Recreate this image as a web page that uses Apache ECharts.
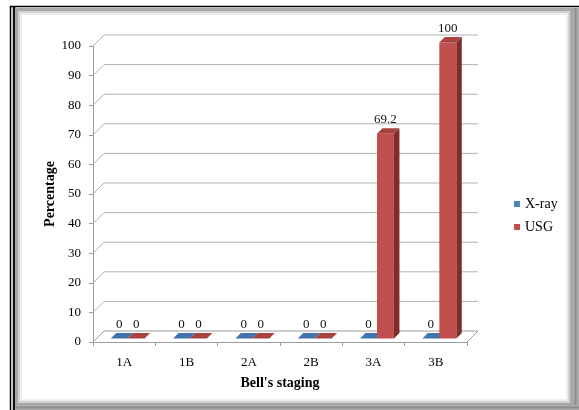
<!DOCTYPE html>
<html>
<head>
<meta charset="utf-8">
<script src="https://cdn.jsdelivr.net/npm/echarts@6/dist/echarts.min.js"></script>
<style>
  html, body { margin: 0; padding: 0; background: #ffffff; }
  #chart { width: 579px; height: 410px; }
</style>
</head>
<body>
<div id="chart"></div>
<script>
// Stages on the horizontal axis and the percentage detected by each method
const categories = ['1A', '1B', '2A', '2B', '3A', '3B'];
const xrayValues = [0, 0, 0, 0, 0, 0];
const usgValues = [0, 0, 0, 0, 69.2, 100];
const seriesNames = ['X-ray', 'USG'];
const yMin = 0, yMax = 100, yStep = 10;
const gridValues = [0, 10, 20, 30, 40, 50, 60, 70, 80, 90, 100];

const FONT = '"Liberation Serif", "Times New Roman", serif';
const WALL_DEPTH = 11;       // depth of the floor / side wall, px
const BAR_FRONT = 3.5;       // bar front face offset into the depth
const BAR_BACK = 9;          // bar back face offset into the depth
const BAR_RATIO = 0.272;     // bar width as a share of the category band
const GRID_COLOR = '#b2b2b2';
const AXIS_COLOR = '#9c9c9c';

const palettes = [
  { front: '#4F81BD', top: '#4373AE', side: '#2F5482' },
  { front: '#C0504D', top: '#A8423F', side: '#7E2D2B' }
];

// Side wall diagonals, back wall gridlines and the floor outline
function renderWalls(params, api) {
  const v = api.value(1);
  const cs = params.coordSys;
  const y = api.coord([0, v])[1];
  const xl = cs.x, xr = cs.x + cs.width, d = WALL_DEPTH;
  const pts = [[xl, y], [xl + d, y - d], [xr + d, y - d]];
  if (v === yMin) pts.push([xr, y]);
  return {
    type: 'polyline',
    shape: { points: pts },
    style: { stroke: v === yMin ? AXIS_COLOR : GRID_COLOR, lineWidth: 1, fill: null }
  };
}

// A 3D column: side face, front face, top face and its value label
function barRenderer(pos) {
  const pal = palettes[pos];
  return function (params, api) {
    const idx = api.value(0), val = api.value(1);
    const base = api.coord([idx, 0]);
    const top = api.coord([idx, val]);
    const band = api.size([1, 0])[0];
    const w = band * BAR_RATIO;
    const x0 = base[0] - w + pos * w;
    const yb = base[1], yt = top[1];
    const f = BAR_FRONT, b = BAR_BACK;
    return {
      type: 'group',
      children: [
        {
          type: 'polygon',
          shape: { points: [[x0 + w + f, yt - f], [x0 + w + b, yt - b], [x0 + w + b, yb - b], [x0 + w + f, yb - f]] },
          style: { fill: pal.side }
        },
        {
          type: 'rect',
          shape: { x: x0 + f, y: yt - f, width: w, height: yb - yt },
          style: { fill: pal.front }
        },
        {
          type: 'polygon',
          shape: { points: [[x0 + f, yt - f], [x0 + w + f, yt - f], [x0 + w + b, yt - b], [x0 + b, yt - b]] },
          style: { fill: pal.top }
        },
        {
          type: 'text',
          style: {
            x: x0 + w / 2 + f,
            y: yt - f - 14,
            text: String(val),
            fill: '#111',
            font: '13px ' + FONT,
            align: 'center',
            verticalAlign: 'middle'
          }
        }
      ]
    };
  };
}

const chart = echarts.init(document.getElementById('chart'), null, { renderer: 'canvas' });

chart.setOption({
  backgroundColor: '#ffffff',
  animation: false,
  graphic: [
    // outer frame
    { type: 'line', shape: { x1: 10.5, y1: 6, x2: 10.5, y2: 410 }, style: { stroke: '#000', lineWidth: 1.5 }, z: -10 },
    { type: 'line', shape: { x1: 14, y1: 7, x2: 14, y2: 410 }, style: { stroke: '#111', lineWidth: 2.5 }, z: -10 },
    { type: 'line', shape: { x1: 10, y1: 6.5, x2: 579, y2: 6.5 }, style: { stroke: '#000', lineWidth: 1.5 }, z: -10 },
    { type: 'rect', shape: { x: 16.5, y: 9.5, width: 555, height: 395 }, style: { stroke: '#a8a8a8', lineWidth: 3, fill: null }, z: -10 },
    { type: 'rect', shape: { x: 19, y: 12, width: 550, height: 390 }, style: { stroke: '#d2d2d2', lineWidth: 2, fill: null }, z: -10 },
    { type: 'rect', shape: { x: 21, y: 14, width: 546, height: 386 }, style: { stroke: '#eeeeee', lineWidth: 2, fill: null }, z: -10 },
    { type: 'rect', shape: { x: 573, y: 8, width: 6, height: 402 }, style: { fill: '#ababab' }, z: -10 },
    { type: 'rect', shape: { x: 574.5, y: 8, width: 2, height: 402 }, style: { fill: '#8e8e8e' }, z: -10 },
    { type: 'rect', shape: { x: 15, y: 405, width: 564, height: 5 }, style: { fill: '#ababab' }, z: -10 },
    { type: 'rect', shape: { x: 15, y: 406.5, width: 564, height: 2 }, style: { fill: '#8e8e8e' }, z: -10 }
  ],
  textStyle: { fontFamily: FONT },
  grid: { left: 93, right: 112, top: 46, bottom: 68, containLabel: false },
  legend: {
    data: seriesNames,
    orient: 'vertical',
    left: 509,
    top: 192,
    itemWidth: 6,
    itemHeight: 6,
    itemGap: 9,
    icon: 'rect',
    textStyle: { fontFamily: FONT, fontSize: 14, color: '#000', lineHeight: 14 }
  },
  xAxis: {
    type: 'category',
    data: categories,
    boundaryGap: true,
    name: "Bell's staging",
    nameLocation: 'middle',
    nameGap: 34,
    nameMoveOverlap: false,
    nameTextStyle: { fontFamily: FONT, fontSize: 14, fontWeight: 'bold', color: '#000' },
    axisLine: { lineStyle: { color: AXIS_COLOR } },
    axisTick: { show: true, length: 4, alignWithLabel: false, lineStyle: { color: AXIS_COLOR } },
    axisLabel: { fontFamily: FONT, fontSize: 13, color: '#000', margin: 14 },
    splitLine: { show: false }
  },
  yAxis: {
    type: 'value',
    min: yMin,
    max: yMax,
    interval: yStep,
    name: 'Percentage',
    nameLocation: 'middle',
    nameRotate: 90,
    nameGap: 36,
    nameMoveOverlap: false,
    nameTextStyle: { fontFamily: FONT, fontSize: 14, fontWeight: 'bold', color: '#000' },
    axisLine: { show: true, lineStyle: { color: AXIS_COLOR } },
    axisTick: { show: true, length: 4, lineStyle: { color: AXIS_COLOR } },
    axisLabel: { fontFamily: FONT, fontSize: 13, color: '#000', margin: 12 },
    splitLine: { show: false }
  },
  series: [
    {
      name: 'walls',
      type: 'custom',
      silent: true,
      z: 1,
      renderItem: renderWalls,
      data: gridValues.map(v => [0, v])
    },
    {
      name: seriesNames[0],
      type: 'custom',
      z: 2,
      itemStyle: { color: palettes[0].front },
      renderItem: barRenderer(0),
      data: xrayValues.map((v, i) => [i, v])
    },
    {
      name: seriesNames[1],
      type: 'custom',
      z: 3,
      itemStyle: { color: palettes[1].front },
      renderItem: barRenderer(1),
      data: usgValues.map((v, i) => [i, v])
    }
  ]
});
</script>
</body>
</html>
